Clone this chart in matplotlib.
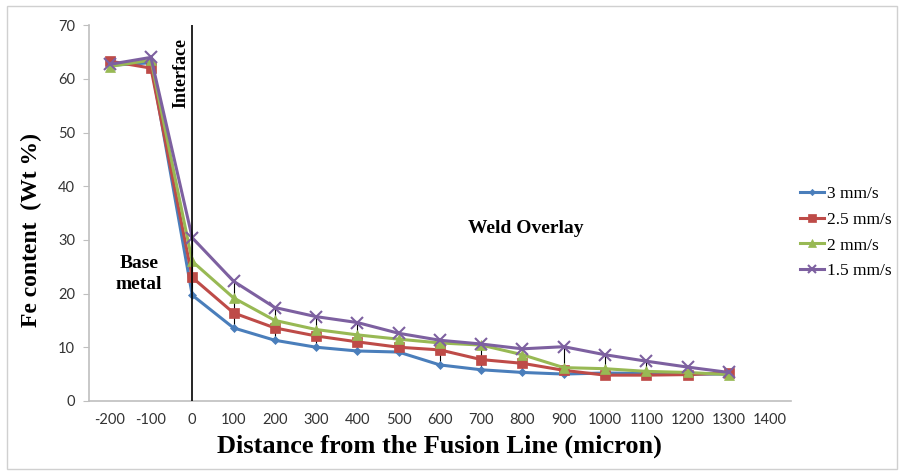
import matplotlib.pyplot as plt
import numpy as np
from matplotlib.patches import Rectangle

distance = [-200, -100, 0, 100, 200, 300, 400, 500, 600, 700, 800, 900, 1000, 1100, 1200, 1300]
fe_3 = [62.5, 63.0, 19.7, 13.6, 11.3, 10.0, 9.3, 9.1, 6.7, 5.8, 5.3, 5.0, 5.2, 5.1, 5.0, 5.0]
fe_25 = [63.3, 62.0, 23.0, 16.4, 13.6, 12.1, 11.0, 10.0, 9.5, 7.7, 7.0, 5.7, 4.8, 4.8, 4.9, 5.2]
fe_2 = [62.3, 63.5, 26.0, 19.2, 15.0, 13.3, 12.3, 11.5, 10.8, 10.4, 8.6, 6.2, 6.0, 5.5, 5.3, 4.9]
fe_15 = [62.7, 64.0, 30.4, 22.3, 17.4, 15.7, 14.6, 12.6, 11.3, 10.6, 9.7, 10.1, 8.6, 7.4, 6.3, 5.3]
labels = ["3 mm/s", "2.5 mm/s", "2 mm/s", "1.5 mm/s"]
xticks = list(range(-200, 1401, 100))

serif = "Liberation Serif"
fig = plt.figure(figsize=(9.02, 4.75), dpi=100)
ax = fig.add_axes([0.0987, 0.156, 0.778, 0.791])

series = [
    (fe_3, "#4a7ebb", "D", 4),
    (fe_25, "#be4b48", "s", 7),
    (fe_2, "#98b954", "^", 7),
    (fe_15, "#7d60a0", "x", 8),
]

# high-low lines across the series
stack = np.array([s[0] for s in series])
ax.vlines(distance, stack.min(axis=0), stack.max(axis=0), color="black", lw=0.8, zorder=1)

for (vals, col, mk, ms), lab in zip(series, labels):
    ax.plot(distance, vals, color=col, marker=mk, markersize=ms, lw=2.2, label=lab,
            markeredgewidth=1.5 if mk == "x" else 0.5, zorder=2)

ax.axvline(0, color="black", lw=1.2, zorder=3)

ax.set_xlim(-250, 1450)
ax.set_ylim(0, 70)
ax.set_xticks(xticks)
ax.set_xticklabels([str(t) for t in xticks])
ax.set_yticks(range(0, 71, 10))
ax.tick_params(axis="x", length=0, pad=9, labelsize=10.5, labelcolor="#333333")
ax.tick_params(axis="y", length=4, color="#bfbfbf", pad=6, labelsize=10.5, labelcolor="#333333")
for lbl in ax.get_xticklabels() + ax.get_yticklabels():
    lbl.set_family("Lato")
for s in ["top", "right"]:
    ax.spines[s].set_visible(False)
for s in ["left", "bottom"]:
    ax.spines[s].set_color("#bfbfbf")
    ax.spines[s].set_linewidth(1.2)

ax.set_xlabel("Distance from the Fusion Line (micron)", family=serif, fontweight="bold",
              fontsize=19, labelpad=5)
ax.set_ylabel("Fe content  (Wt %)", family=serif, fontweight="bold", fontsize=17)
ax.yaxis.set_label_coords(-0.067, 0.455)

ax.text(-28, 61, "Interface", rotation=90, family=serif, fontweight="bold", fontsize=13,
        ha="center", va="center")
ax.text(-129, 23.7, "Base\nmetal", family=serif, fontweight="bold", fontsize=14,
        ha="center", va="center", linespacing=1.3)
ax.text(808, 32.2, "Weld Overlay", family=serif, fontweight="bold", fontsize=14,
        ha="center", va="center")

leg = ax.legend(loc="upper left", bbox_to_anchor=(800 / 902, 1 - 186 / 475),
                bbox_transform=fig.transFigure, frameon=False, borderaxespad=0, borderpad=0,
                prop={"family": serif, "size": 12.5}, handlelength=1.4, handletextpad=0.15,
                labelspacing=0.55)
for h in leg.legend_handles:
    h.set_markersize(h.get_markersize() * 0.8)

fig.add_artist(Rectangle((0.008, 0.012), 0.986, 0.975, transform=fig.transFigure,
                         fill=False, edgecolor="#d0d0d0", lw=1))

plt.savefig("out.png", dpi=100)
